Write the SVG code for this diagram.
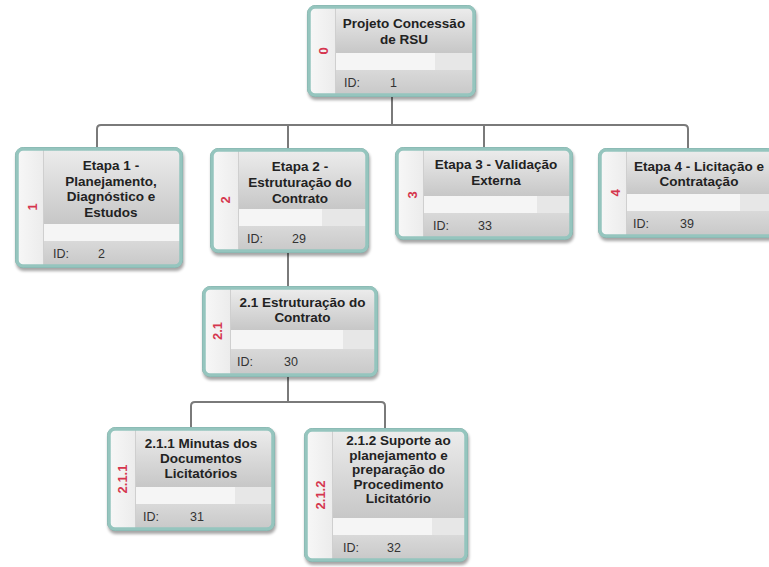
<svg xmlns="http://www.w3.org/2000/svg" width="769" height="567" viewBox="0 0 769 567">
  <defs>
    <linearGradient id="gTitle" x1="0" y1="0" x2="0" y2="1">
      <stop offset="0" stop-color="#ececec"/>
      <stop offset="1" stop-color="#c7c7c7"/>
    </linearGradient>
    <linearGradient id="gId" x1="0" y1="0" x2="0" y2="1">
      <stop offset="0" stop-color="#d9d9d9"/>
      <stop offset="1" stop-color="#c9c9c9"/>
    </linearGradient>
    <linearGradient id="gStrip" x1="0" y1="0" x2="1" y2="0">
      <stop offset="0" stop-color="#f7f7f7"/>
      <stop offset="1" stop-color="#ececec"/>
    </linearGradient>
    <filter id="soft" x="-10%" y="-10%" width="120%" height="130%">
      <feGaussianBlur stdDeviation="1.6"/>
    </filter>
  </defs>
  <style>
    .shadow { fill: #000; opacity: 0.35; filter: url(#soft); }
    .base { fill: #95c5be; stroke: #739f99; stroke-width: 1; }
    .frame { fill: none; stroke: #95c5be; stroke-width: 3.5; }
    .strip { fill: url(#gStrip); }
    .title { fill: url(#gTitle); }
    .blank { fill: #f5f5f5; }
    .blank2 { fill: #e7e7e7; }
    .idband { fill: url(#gId); }
    .div { stroke: #cfcfcf; stroke-width: 1; }
    .ttl { font-family: "Liberation Sans", Arial, sans-serif; font-weight: bold; font-size: 13.5px; fill: #222; text-anchor: middle; }
    .idt { font-family: "Liberation Sans", Arial, sans-serif; font-size: 12.5px; fill: #333; }
    .wbs { font-family: "Liberation Sans", Arial, sans-serif; font-weight: bold; font-size: 13px; fill: #d5364e; text-anchor: middle; }
    .link { fill: none; stroke: #7a7a7a; stroke-width: 2; }
  </style>

  <!-- connectors -->
  <g id="connectors">
    <path class="link" d="M392,97 V125"/>
    <path class="link" d="M97,147 V129 Q97,125 101,125 H684 Q688,125 688,129 V148"/>
    <path class="link" d="M288,125 V148"/>
    <path class="link" d="M484,125 V147"/>
    <path class="link" d="M288,253 V286"/>
    <path class="link" d="M288,377 V402"/>
    <path class="link" d="M191,427 V406 Q191,402 195,402 H381 Q385,402 385,406 V428"/>
  </g>

  <!-- 0: project root -->
  <g id="n0" transform="translate(307,5)">
    <rect class="shadow" x="1" y="3" width="169" height="92" rx="8"/>
    <rect class="base" x="0.5" y="0.5" width="168" height="91" rx="8"/>
    <rect class="strip" x="3" y="3" width="25" height="86"/>
    <rect class="title" x="28" y="3" width="138" height="45"/>
    <rect class="blank" x="28" y="48" width="138" height="17"/>
    <rect class="blank2" x="128" y="48" width="38" height="17"/>
    <rect class="idband" x="28" y="65" width="138" height="24"/>
    <line class="div" x1="28.5" y1="3" x2="28.5" y2="89"/>
    <rect class="frame" x="2" y="2" width="165" height="88" rx="6"/>
    <text class="wbs" transform="translate(16,46) rotate(-90)" y="4.7">0</text>
    <text class="ttl" x="97" y="23">Projeto Concessão</text>
    <text class="ttl" x="97" y="38.5">de RSU</text>
    <text class="idt" x="37" y="81.5">ID:</text>
    <text class="idt" x="83" y="81.5">1</text>
  </g>

  <!-- 1 -->
  <g id="n1" transform="translate(15,147)">
    <rect class="shadow" x="1" y="3" width="168" height="121" rx="8"/>
    <rect class="base" x="0.5" y="0.5" width="167" height="120" rx="8"/>
    <rect class="strip" x="3" y="3" width="25" height="115"/>
    <rect class="title" x="28" y="3" width="137" height="74"/>
    <rect class="blank" x="28" y="77" width="137" height="17"/>
    <rect class="idband" x="28" y="94" width="137" height="24"/>
    <line class="div" x1="28.5" y1="3" x2="28.5" y2="118"/>
    <rect class="frame" x="2" y="2" width="164" height="117" rx="6"/>
    <text class="wbs" transform="translate(17,60) rotate(-90)" y="4.7">1</text>
    <text class="ttl" x="96" y="23">Etapa 1 -</text>
    <text class="ttl" x="96" y="38.5">Planejamento,</text>
    <text class="ttl" x="96" y="54">Diagnóstico e</text>
    <text class="ttl" x="96" y="69.5">Estudos</text>
    <text class="idt" x="38" y="110.5">ID:</text>
    <text class="idt" x="83" y="110.5">2</text>
  </g>

  <!-- 2 -->
  <g id="n2" transform="translate(210,148)">
    <rect class="shadow" x="1" y="3" width="159" height="105" rx="8"/>
    <rect class="base" x="0.5" y="0.5" width="158" height="104" rx="8"/>
    <rect class="strip" x="3" y="3" width="25" height="99"/>
    <rect class="title" x="28" y="3" width="128" height="58"/>
    <rect class="blank" x="28" y="61" width="128" height="17"/>
    <rect class="blank2" x="112" y="61" width="44" height="17"/>
    <rect class="idband" x="28" y="78" width="128" height="24"/>
    <line class="div" x1="28.5" y1="3" x2="28.5" y2="102"/>
    <rect class="frame" x="2" y="2" width="155" height="101" rx="6"/>
    <text class="wbs" transform="translate(15,52) rotate(-90)" y="4.7">2</text>
    <text class="ttl" x="90" y="23">Etapa 2 -</text>
    <text class="ttl" x="90" y="39">Estruturação do</text>
    <text class="ttl" x="90" y="55">Contrato</text>
    <text class="idt" x="37" y="94.5">ID:</text>
    <text class="idt" x="82" y="94.5">29</text>
  </g>

  <!-- 3 -->
  <g id="n3" transform="translate(395,147)">
    <rect class="shadow" x="1" y="3" width="178" height="93" rx="8"/>
    <rect class="base" x="0.5" y="0.5" width="177" height="92" rx="8"/>
    <rect class="strip" x="3" y="3" width="25" height="87"/>
    <rect class="title" x="28" y="3" width="147" height="46"/>
    <rect class="blank" x="28" y="49" width="147" height="17"/>
    <rect class="blank2" x="142" y="49" width="33" height="17"/>
    <rect class="idband" x="28" y="66" width="147" height="24"/>
    <line class="div" x1="28.5" y1="3" x2="28.5" y2="90"/>
    <rect class="frame" x="2" y="2" width="174" height="89" rx="6"/>
    <text class="wbs" transform="translate(17,48) rotate(-90)" y="4.7">3</text>
    <text class="ttl" x="101" y="22">Etapa 3 - Validação</text>
    <text class="ttl" x="101" y="37.5">Externa</text>
    <text class="idt" x="38" y="82.5">ID:</text>
    <text class="idt" x="83" y="82.5">33</text>
  </g>

  <!-- 4 -->
  <g id="n4" transform="translate(598,148)">
    <rect class="shadow" x="1" y="3" width="178" height="90" rx="8"/>
    <rect class="base" x="0.5" y="0.5" width="177" height="89" rx="8"/>
    <rect class="strip" x="3" y="3" width="25" height="84"/>
    <rect class="title" x="28" y="3" width="147" height="43"/>
    <rect class="blank" x="28" y="46" width="147" height="17"/>
    <rect class="blank2" x="142" y="46" width="33" height="17"/>
    <rect class="idband" x="28" y="63" width="147" height="24"/>
    <line class="div" x1="28.5" y1="3" x2="28.5" y2="87"/>
    <rect class="frame" x="2" y="2" width="174" height="86" rx="6"/>
    <text class="wbs" transform="translate(17,45) rotate(-90)" y="4.7">4</text>
    <text class="ttl" x="101" y="23">Etapa 4 - Licitação e</text>
    <text class="ttl" x="101" y="38">Contratação</text>
    <text class="idt" x="35" y="79.5">ID:</text>
    <text class="idt" x="82" y="79.5">39</text>
  </g>

  <!-- 2.1 -->
  <g id="n21" transform="translate(202,286)">
    <rect class="shadow" x="1" y="3" width="176" height="91" rx="8"/>
    <rect class="base" x="0.5" y="0.5" width="175" height="90" rx="8"/>
    <rect class="strip" x="3" y="3" width="25" height="85"/>
    <rect class="title" x="28" y="3" width="145" height="41"/>
    <rect class="blank" x="28" y="44" width="145" height="19"/>
    <rect class="blank2" x="141" y="44" width="32" height="19"/>
    <rect class="idband" x="28" y="63" width="145" height="25"/>
    <line class="div" x1="28.5" y1="3" x2="28.5" y2="88"/>
    <rect class="frame" x="2" y="2" width="172" height="87" rx="6"/>
    <text class="wbs" transform="translate(15,45) rotate(-90)" y="4.7">2.1</text>
    <text class="ttl" x="100.5" y="21">2.1 Estruturação do</text>
    <text class="ttl" x="100.5" y="35.5">Contrato</text>
    <text class="idt" x="35" y="80">ID:</text>
    <text class="idt" x="82" y="80">30</text>
  </g>

  <!-- 2.1.1 -->
  <g id="n211" transform="translate(107,427)">
    <rect class="shadow" x="1" y="3" width="168" height="104" rx="8"/>
    <rect class="base" x="0.5" y="0.5" width="167" height="103" rx="8"/>
    <rect class="strip" x="3" y="3" width="25" height="98"/>
    <rect class="title" x="28" y="3" width="137" height="57"/>
    <rect class="blank" x="28" y="60" width="137" height="17"/>
    <rect class="blank2" x="128" y="60" width="37" height="17"/>
    <rect class="idband" x="28" y="77" width="137" height="24"/>
    <line class="div" x1="28.5" y1="3" x2="28.5" y2="101"/>
    <rect class="frame" x="2" y="2" width="164" height="100" rx="6"/>
    <text class="wbs" transform="translate(15,52) rotate(-90)" y="4.7">2.1.1</text>
    <text class="ttl" x="94" y="21">2.1.1 Minutas dos</text>
    <text class="ttl" x="94" y="36">Documentos</text>
    <text class="ttl" x="94" y="51">Licitatórios</text>
    <text class="idt" x="36" y="93.5">ID:</text>
    <text class="idt" x="83" y="93.5">31</text>
  </g>

  <!-- 2.1.2 -->
  <g id="n212" transform="translate(304,428)">
    <rect class="shadow" x="1" y="3" width="164" height="134" rx="8"/>
    <rect class="base" x="0.5" y="0.5" width="163" height="133" rx="8"/>
    <rect class="strip" x="3" y="3" width="25" height="128"/>
    <rect class="title" x="28" y="3" width="133" height="87"/>
    <rect class="blank" x="28" y="90" width="133" height="17"/>
    <rect class="blank2" x="128" y="90" width="33" height="17"/>
    <rect class="idband" x="28" y="107" width="133" height="24"/>
    <line class="div" x1="28.5" y1="3" x2="28.5" y2="131"/>
    <rect class="frame" x="2" y="2" width="160" height="130" rx="6"/>
    <text class="wbs" transform="translate(16,67) rotate(-90)" y="4.7">2.1.2</text>
    <text class="ttl" x="94.5" y="17">2.1.2 Suporte ao</text>
    <text class="ttl" x="94.5" y="31.5">planejamento e</text>
    <text class="ttl" x="94.5" y="46">preparação do</text>
    <text class="ttl" x="94.5" y="60.5">Procedimento</text>
    <text class="ttl" x="94.5" y="75">Licitatório</text>
    <text class="idt" x="39" y="123.5">ID:</text>
    <text class="idt" x="83" y="123.5">32</text>
  </g>
</svg>
